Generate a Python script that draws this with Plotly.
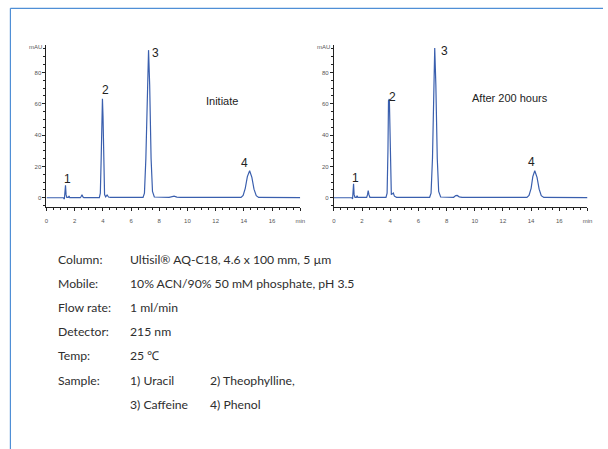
import plotly.graph_objects as go

# Chromatogram traces (retention time in min, absorbance in mAU)
initiate_t = [0, 1.2, 1.27, 1.31, 1.35, 1.39, 1.44, 1.55, 1.6, 1.65, 2.4, 2.46, 2.52, 2.58, 2.65,
              3.75, 3.82, 3.88, 3.93, 3.97, 4.01, 4.06, 4.12, 4.2, 4.3, 4.4, 4.55,
              6.85, 6.95, 7.05, 7.15, 7.24, 7.32, 7.42, 7.52, 7.65,
              8.7, 8.9, 9.05, 9.25, 9.5,
              13.8, 13.95, 14.1, 14.25, 14.41, 14.57, 14.72, 14.88, 15.05, 18]
initiate_mau = [0, 0, -0.8, 3, 7.9, 2, 0.2, 0.2, 1.2, 0.1, 0.1, 0.8, 2, 0.6, 0.1,
                0.1, 3, 25, 55, 63.2, 52, 20, 2, 0.6, 1.8, 0.5, 0.2,
                0.2, 3, 25, 72, 94.2, 72, 25, 4, 0.5,
                0.3, 0.9, 1.0, 0.4, 0.2,
                0.2, 1.5, 6, 13.5, 17.2, 13, 5.5, 1.3, 0.2, 0.1]

aged_t = [0, 1.28, 1.33, 1.36, 1.40, 1.44, 1.5, 1.6, 1.65, 1.7, 2.33, 2.39, 2.44, 2.49, 2.56,
          3.7, 3.78, 3.84, 3.88, 3.94, 3.98, 4.03, 4.08, 4.15, 4.22, 4.3, 4.45,
          6.8, 6.9, 7.0, 7.08, 7.16, 7.24, 7.34, 7.44, 7.58,
          8.5, 8.65, 8.75, 8.9, 9.1,
          13.7, 13.85, 14.0, 14.12, 14.26, 14.42, 14.57, 14.72, 14.9, 18]
aged_mau = [0, 0, -0.8, 3, 8.9, 2, 0.3, 0.3, 1.3, 0.2, 0.2, 2, 4.5, 2, 0.3,
            0.2, 3, 30, 62, 63, 50, 18, 2, 2.5, 3, 1, 0.3,
            0.3, 3, 25, 72, 95.5, 72, 25, 4, 0.5,
            0.3, 1.4, 1.5, 0.6, 0.2,
            0.2, 1.5, 6, 13.5, 17.2, 13, 5.5, 1.3, 0.2, 0.1]

# Peak number labels: (time, mAU) positions
peak_names = ["1", "2", "3", "4"]
initiate_label_t = [1.52, 4.16, 7.76, 14.08]
initiate_label_y = [11.8, 68.7, 92.5, 21.9]
aged_label_t = [1.51, 4.19, 7.84, 14.05]
aged_label_y = [12.8, 64.0, 93.4, 22.8]

panel_titles = ["Initiate", "After 200 hours"]
panel_title_pos = [(12.45, 61.9), (12.53, 63.4)]

x_tickvals = [0, 2, 4, 6, 8, 10, 12, 14, 16, 18]
x_ticktext = ["0", "2", "4", "6", "8", "10", "12", "14", "16", "min"]
y_tickvals = [0, 20, 40, 60, 80]

condition_labels = ["Column:", "Mobile:", "Flow rate:", "Detector:", "Temp:", "Sample:"]
condition_values = ["Ultisil® AQ-C18, 4.6 x 100 mm, 5 µm",
                    "10% ACN/90% 50 mM phosphate, pH 3.5",
                    "1 ml/min",
                    "215 nm",
                    "25 ℃",
                    "1) Uracil"]
sample_extra = ["2) Theophylline,", "3) Caffeine", "4) Phenol"]

W, H = 608, 449
LINE = "#3a5fae"
FRAME = "#4f8fd6"
TEXT = "#2e2e2e"
BODY_FONT = dict(size=12.2, color=TEXT, family="Lato")

fig = go.Figure()
fig.add_trace(go.Scatter(x=initiate_t, y=initiate_mau, mode="lines",
                         line=dict(color=LINE, width=1.2), xaxis="x", yaxis="y",
                         hoverinfo="skip", showlegend=False))
fig.add_trace(go.Scatter(x=aged_t, y=aged_mau, mode="lines",
                         line=dict(color=LINE, width=1.2), xaxis="x2", yaxis="y2",
                         hoverinfo="skip", showlegend=False))

ydom = [(449 - 206.7) / H, (449 - 44.5) / H]
xdom1 = [45 / W, 301.7 / W]
xdom2 = [335.7 / W, 592.3 / W]
yr = [-5.7, 97.8]

def xaxis(dom, anchor):
    return dict(domain=dom, anchor=anchor, range=[0, 18], showgrid=False, zeroline=False,
                showline=True, linecolor="#222", linewidth=1,
                tickvals=x_tickvals, ticktext=x_ticktext, ticks="outside", ticklen=3,
                tickcolor="#222", tickwidth=1,
                tickfont=dict(size=6, color="#555", family="Liberation Sans"),
                ticklabelstandoff=5,
                minor=dict(dtick=0.5, tick0=0, ticks="outside", ticklen=2, tickcolor="#222"))

def yaxis(dom, anchor):
    return dict(domain=dom, anchor=anchor, range=yr, showgrid=False, zeroline=False,
                showline=True, linecolor="#222", linewidth=1,
                tickvals=y_tickvals, ticks="outside", ticklen=3, tickcolor="#222",
                tickfont=dict(size=6, color="#555", family="Liberation Sans"),
                minor=dict(dtick=5, tick0=0, ticks="outside", ticklen=2, tickcolor="#222"))

fig.update_layout(
    width=W, height=H, margin=dict(l=0, r=0, t=0, b=0),
    paper_bgcolor="white", plot_bgcolor="white",
    xaxis=xaxis(xdom1, "y"), yaxis=yaxis(ydom, "x"),
    xaxis2=xaxis(xdom2, "y2"), yaxis2=yaxis(ydom, "x2"),
)

ann = []
for xr, yref, lt, ly, title, tpos in [("x", "y", initiate_label_t, initiate_label_y, panel_titles[0], panel_title_pos[0]),
                                       ("x2", "y2", aged_label_t, aged_label_y, panel_titles[1], panel_title_pos[1])]:
    for name, tx, ty in zip(peak_names, lt, ly):
        ann.append(dict(x=tx, y=ty, xref=xr, yref=yref, text=name, showarrow=False,
                        font=dict(size=12, color="#222", family="Liberation Sans")))
    ann.append(dict(x=tpos[0], y=tpos[1], xref=xr, yref=yref, text=title, showarrow=False,
                    font=dict(size=11, color="#222", family="Liberation Sans")))
    ann.append(dict(x=0, y=96.4, xref=xr, yref=yref, text="mAU", showarrow=False,
                    xanchor="right", xshift=-2,
                    font=dict(size=6, color="#555", family="Liberation Sans")))

# Experimental conditions block
row_y = [259.3, 283.3, 307.3, 331.7, 355.7, 380.7]
for lab, val, ry in zip(condition_labels, condition_values, row_y):
    ann.append(dict(x=55 / W, y=1 - ry / H, xref="paper", yref="paper", text=lab,
                    showarrow=False, xanchor="left", yanchor="middle", font=BODY_FONT))
    ann.append(dict(x=127.5 / W, y=1 - ry / H, xref="paper", yref="paper", text=val,
                    showarrow=False, xanchor="left", yanchor="middle", font=BODY_FONT))
for txt, px, py in zip(sample_extra, [208.3, 127.5, 208.3], [380.7, 404.3, 404.3]):
    ann.append(dict(x=px / W, y=1 - py / H, xref="paper", yref="paper", text=txt,
                    showarrow=False, xanchor="left", yanchor="middle", font=BODY_FONT))

fig.update_layout(annotations=ann)

# Page frame: top and left rules
fig.add_shape(type="line", xref="paper", yref="paper", x0=8.5 / W, x1=1, y0=1 - 8.3 / H, y1=1 - 8.3 / H,
              line=dict(color=FRAME, width=1.2))
fig.add_shape(type="line", xref="paper", yref="paper", x0=8.5 / W, x1=8.5 / W, y0=0, y1=1 - 8.3 / H,
              line=dict(color=FRAME, width=1.2))

fig.write_html("out.html")
